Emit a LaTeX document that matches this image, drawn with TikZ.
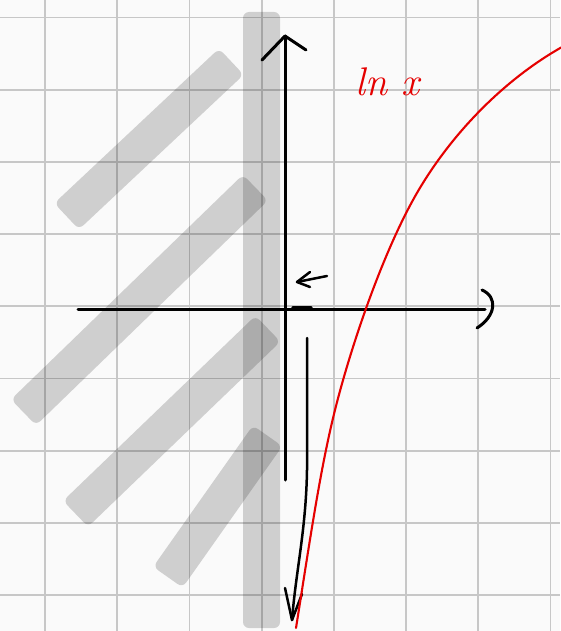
\documentclass[tikz,border=0pt]{standalone}
\usepackage{tikz}
\begin{document}
\begin{tikzpicture}[x=1pt,y=-1pt,
  gridline/.style={draw=black!22, line width=1.8pt},
  bar/.style={fill=black, fill opacity=0.17, draw=none, rounded corners=6pt, inner sep=0pt, minimum height=36pt},
  ink/.style={draw=black, line width=3pt, line cap=round, line join=round},
  redink/.style={draw=red!90!black, line width=2.1pt, line cap=round, line join=round}]
\useasboundingbox (0,0) rectangle (560,631);
\fill[white!98!black] (0,0) rectangle (560,631);
% grid
\foreach \i in {0,...,7} \draw[gridline] (45.1+72.2*\i,0) -- (45.1+72.2*\i,631);
\foreach \j in {0,...,8} \draw[gridline] (0,17.5+72.2*\j) -- (560,17.5+72.2*\j);
% translucent bars
\node[bar, minimum width=37pt, minimum height=616pt] (vbar) at (261.5,320) {};
\node[bar, minimum width=226pt, rotate=43.2] (barA) at (149,139) {};
\node[bar, minimum width=323pt, rotate=44.1] (barB) at (139.5,300) {};
\node[bar, minimum width=267pt, rotate=43.9] (barC) at (171.75,421.25) {};
\node[bar, minimum width=173pt, rotate=54.8] (barD) at (217.75,506.5) {};
% axes
\coordinate (ytop) at (285,36);
\coordinate (ybot) at (285,480);
\coordinate (xl) at (78,309);
\coordinate (xr) at (485,309);
\draw[ink] (ybot) -- (ytop);
\draw[ink] (262,60) -- (ytop) -- (306,50);
\draw[ink] (xl) -- (xr);
\draw[ink] (482,290) .. controls (498,297) and (496,316) .. (477,328);
% small marks
\draw[ink, line width=3.4pt] (293,308) -- (311,308);
\coordinate (lt) at (297,282);
\draw[ink, line width=2.5pt] (lt) -- (327,276);
\draw[ink, line width=2.5pt] (310,272) -- (lt) -- (310,287);
% down arrow
\coordinate (ds) at (307,338);
\coordinate (de) at (292,620);
\draw[ink, line width=2.5pt] (ds) -- (307,470) .. controls (306,530) and (296,570) .. (de);
\draw[ink, line width=2.5pt] (285,588) -- (de) -- (302,594);
% red curve ln x
\draw[redink] (296,628) .. controls (310,540) and (320,470) .. (335,410)
  .. controls (350,350) and (380,260) .. (413,200)
  .. controls (446,140) and (500,82) .. (562,47);
\node[text=red!90!black, font=\fontsize{40}{40}\selectfont\itshape, anchor=base west] (lab) at (352,96) {ln x};
\end{tikzpicture}
\end{document}
